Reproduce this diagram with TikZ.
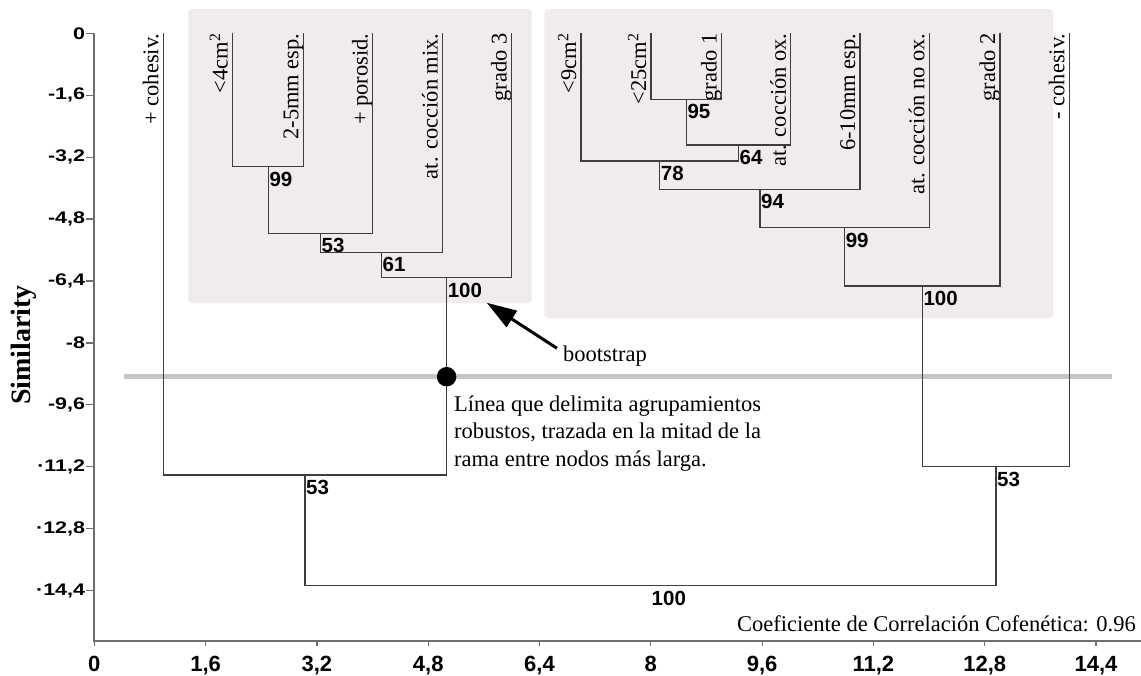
\documentclass[tikz,border=0pt]{standalone}
\usepackage{fontspec}
\setmainfont{Liberation Serif}
\setsansfont{Liberation Sans}
\usetikzlibrary{arrows.meta}
\definecolor{boxfill}{RGB}{241,236,236}
\definecolor{barcol}{RGB}{202,197,197}
\definecolor{lncol}{RGB}{62,62,62}
\definecolor{axcol}{RGB}{110,110,110}
\newcommand\leaffont{\fontsize{22.5}{27}\selectfont}
\newcommand\bootfont{\sffamily\bfseries\fontsize{20.5}{21}\selectfont}
\newcommand\ytfont{\sffamily\bfseries\fontsize{21.5}{21.5}\selectfont}
\newcommand\xtfont{\sffamily\bfseries\fontsize{22}{22}\selectfont}
\tikzset{
  leaf/.style={rotate=90, anchor=base east, inner sep=0pt, font=\leaffont},
  bootlab/.style={anchor=north west, inner sep=0pt, xshift=1pt, yshift=-5pt, font=\bootfont},
  branch/.style={draw=lncol, line width=1.3pt},
  axisline/.style={draw=axcol, line width=1.8pt},
  ylab/.style={anchor=east, inner sep=0pt, font=\ytfont, yscale=0.78},
  xlab/.style={anchor=base, inner sep=0pt, font=\xtfont},
  note/.style={inner sep=0pt, font=\leaffont},
  groupbox/.style={fill=boxfill, rounded corners=4pt},
}
\begin{document}
\begin{tikzpicture}[x=1pt,y=-1pt]
\useasboundingbox (0,0) rectangle (1141,675);
\fill[white] (0,0) rectangle (1141,675);
% group boxes
\fill[groupbox] (188.3,9) rectangle (531.7,303);
\fill[groupbox] (544.3,9) rectangle (1053.3,318.3);
% robust-group line
\coordinate (barL) at (124,376.7);
\coordinate (barR) at (1111.7,376.7);
\draw[barcol, line width=5.5pt] (barL) -- (barR);
% axes
\coordinate (Ytop) at (94.3,33.3);
\coordinate (O) at (94.3,641);
\coordinate (Xend) at (1141,641);
\draw[axisline] (Ytop) -- (O) -- (Xend);
\foreach \i/\t in {0/{0},1/{-1,6},2/{-3,2},3/{-4,8},4/{-6,4},5/{-8},6/{-9,6},7/{·11,2},8/{·12,8},9/{·14,4}}{
  \coordinate (yt\i) at (94.3,33.3+\i*61.93);
  \draw[axcol, line width=1.2pt] (yt\i) -- ++(-8,0) coordinate (ytl\i);
  \node[ylab] (ylab\i) at ([xshift=-1pt]ytl\i) {\t};
}
\foreach \i/\t in {0/{0},1/{1,6},2/{3,2},3/{4,8},4/{6,4},5/{8},6/{9,6},7/{11,2},8/{12,8},9/{14,4}}{
  \coordinate (xt\i) at (94.3+\i*111.3,641);
  \draw[axcol, line width=1.2pt] (xt\i) -- ++(0,5);
  \node[xlab] (xlab\i) at (94.3+\i*111.3,671.5) {\t};
}
\node[rotate=90, inner sep=0pt, font=\bfseries\fontsize{28}{28}\selectfont] (ylabel) at (24,345) {Similarity};
% leaves
\foreach \n/\x in {1/163.3,2/232.7,3/303.3,4/372.7,5/442.5,6/511.7,7/581,8/651,9/721.7,10/790.8,11/860,12/929.3,13/1000,14/1069.3}{
  \coordinate (L\n) at (\x,33.3);
}
\node[leaf] (t1) at ([xshift=-5pt]L1) {+ cohesiv.};
\node[leaf] (t2) at ([xshift=-5pt]L2) {<4cm\textsuperscript{2}};
\node[leaf] (t3) at ([xshift=-5pt]L3) {2-5mm esp.};
\node[leaf] (t4) at ([xshift=-5pt]L4) {+ porosid.};
\node[leaf] (t5) at ([xshift=-5pt]L5) {at. cocción mix.};
\node[leaf] (t6) at ([xshift=-5pt]L6) {grado 3};
\node[leaf] (t7) at ([xshift=-5pt]L7) {<9cm\textsuperscript{2}};
\node[leaf] (t8) at ([xshift=-5pt]L8) {<25cm\textsuperscript{2}};
\node[leaf] (t9) at ([xshift=-5pt]L9) {grado 1};
\node[leaf] (t10) at ([xshift=-5pt]L10) {at. cocción ox.};
\node[leaf] (t11) at ([xshift=-5pt]L11) {6-10mm esp.};
\node[leaf] (t12) at ([xshift=-5pt]L12) {at. cocción no ox.};
\node[leaf] (t13) at ([xshift=-5pt]L13) {grado 2};
\node[leaf] (t14) at ([xshift=-5pt]L14) {- cohesiv.};
% junctions
\coordinate (J99a) at (268.3,166.7);
\coordinate (J53a) at (320.5,233.3);
\coordinate (J61) at (381.5,252.3);
\coordinate (J100a) at (446.6,277.7);
\coordinate (J53b) at (305,475);
\coordinate (J95) at (686.3,99.3);
\coordinate (J64) at (738.5,145);
\coordinate (J78) at (659.7,161);
\coordinate (J94) at (759.9,189.3);
\coordinate (J99b) at (844.6,227.7);
\coordinate (J100b) at (922.3,286);
\coordinate (J53c) at (996,466.7);
\coordinate (Root) at (650.5,585.7);
\foreach \a/\b/\j in {L2/L3/J99a, J99a/L4/J53a, J53a/L5/J61, J61/L6/J100a, L1/J100a/J53b,
  L8/L9/J95, J95/L10/J64, L7/J64/J78, J78/L11/J94, J94/L12/J99b, J99b/L13/J100b, J100b/L14/J53c,
  J53b/J53c/Root}{
  \draw[branch] (\a) -- (\a |- \j) -- (\b |- \j) -- (\b);
}
\node[bootlab] (b99a) at (J99a) {99};
\node[bootlab] (b53a) at (J53a) {53};
\node[bootlab] (b61) at (J61) {61};
\node[bootlab] (b100a) at (J100a) {100};
\node[bootlab] (b53b) at (J53b) {53};
\node[bootlab] (b95) at (J95) {95};
\node[bootlab] (b64) at (J64) {64};
\node[bootlab] (b78) at (J78) {78};
\node[bootlab] (b94) at (J94) {94};
\node[bootlab] (b99b) at (J99b) {99};
\node[bootlab] (b100b) at (J100b) {100};
\node[bootlab] (b53c) at (J53c) {53};
\node[bootlab] (broot) at (Root) {100};
% robust point
\node[circle, fill=black, minimum size=19.5pt, inner sep=0pt] (dot) at (446.6,376.7) {};
% bootstrap arrow
\coordinate (arrS) at (557,348.3);
\coordinate (arrT) at (486.7,302.7);
\draw[black, line width=3pt, -{Triangle[length=30pt,width=19pt]}] (arrS) -- (arrT);
\node[note, anchor=base west] (bs) at (563,361.7) {bootstrap};
\node[note, anchor=north west, align=left, font=\fontsize{22.5}{27.5}\selectfont] (linea) at (454,395.5)
  {Línea que delimita agrupamientos\\robustos, trazada en la mitad de la\\rama entre nodos más larga.};
\node[note, anchor=base east] (coef) at (1136,631.7) {Coeficiente de Correlación Cofenética: 0.96};
\end{tikzpicture}
\end{document}
